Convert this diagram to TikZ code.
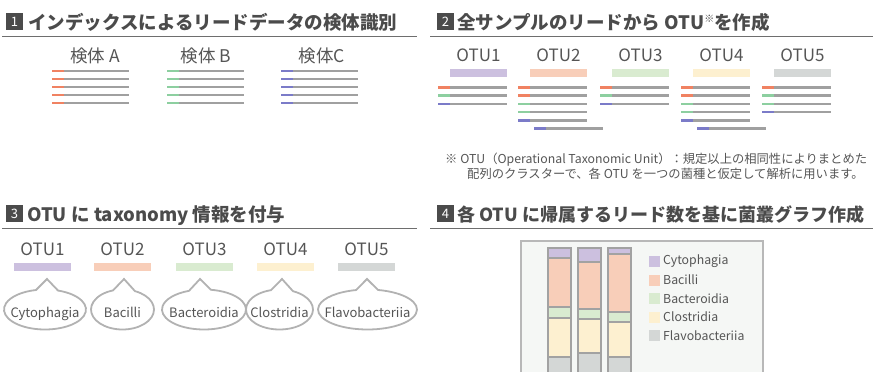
\documentclass[tikz,border=0pt]{standalone}
\usepackage{fontspec}
\setmainfont{Noto Sans CJK JP}
\usepackage{xcolor}
\usepackage{tikz}
\usetikzlibrary{positioning}

\definecolor{ink}{HTML}{4B4B4B}
\definecolor{txt}{HTML}{555555}
\definecolor{rulec}{HTML}{6E6E6E}
\definecolor{rd}{HTML}{F08262}
\definecolor{gn}{HTML}{8DCFA0}
\definecolor{bl}{HTML}{7B7BC8}
\definecolor{rg}{HTML}{A0A0A0}
\definecolor{cyto}{HTML}{CCC0DF}
\definecolor{baci}{HTML}{F8CEB9}
\definecolor{bact}{HTML}{D9EBD0}
\definecolor{clos}{HTML}{FDF0D0}
\definecolor{flav}{HTML}{D4D7D6}
\definecolor{framec}{HTML}{B8B8B8}
\definecolor{framefill}{HTML}{F5F7F5}
\definecolor{segc}{HTML}{A2A2A2}
\definecolor{bubc}{HTML}{B2B2B2}

\tikzset{
  numbox/.style={fill=ink,text=white,minimum width=17pt,minimum height=17.5pt,inner sep=0pt,font=\fontsize{13}{13}\selectfont},
  titletxt/.style={anchor=base west,inner sep=0pt,text=ink,font=\fontsize{18.5}{18.5}\selectfont\bfseries},
  hrule/.style={draw=rulec,line width=1.3pt},
  samplelbl/.style={text=txt,inner sep=0pt,font=\fontsize{17.5}{17.5}\selectfont},
  otulbl/.style={text=txt,inner sep=0pt,font=\fontsize{17}{17}\selectfont},
  otubar/.style={minimum width=57pt,minimum height=8pt,inner sep=0pt},
  readline/.style={draw=rg,line width=2.5pt},
  notetxt/.style={anchor=base west,inner sep=0pt,text=txt,font=\fontsize{12.3}{12.3}\selectfont},
  bubble/.style={draw=bubc,line width=1.8pt,fill=white},
  taxtxt/.style={anchor=base,inner sep=0pt,text=txt,font=\fontsize{13}{13}\selectfont},
  chartframe/.style={draw=framec,line width=2pt,fill=framefill},
  seg/.style={draw=segc,line width=2.4pt},
  legtxt/.style={anchor=west,inner sep=0pt,text=txt,font=\fontsize{12.3}{12.3}\selectfont}
}

\begin{document}
\begin{tikzpicture}[x=1pt,y=-1pt]
\useasboundingbox (0,0) rectangle (873,372);
%
% headings
\node[numbox] (num1) at (14.5,21.5) {1};
\node[titletxt] (title1) at (28,29) {インデックスによるリードデータの検体識別};
\node[numbox] (num2) at (445.5,21.5) {2};
\node[titletxt] (title2) at (457,29) {全サンプルのリードから OTU{\mdseries\fontsize{10}{10}\selectfont\raisebox{6pt}{※}}を作成};
\node[numbox] (num3) at (14.5,213.5) {3};
\node[titletxt] (title3) at (27,221) {OTU に taxonomy 情報を付与};
\node[numbox] (num4) at (445.5,213.5) {4};
\node[titletxt,font=\fontsize{18}{18}\selectfont\bfseries] (title4) at (457,221) {各 OTU に帰属するリード数を基に菌叢グラフ作成};
\draw[hrule] (2,36.5) -- (417,36.5);
\draw[hrule] (430,36.5) -- (873,36.5);
\draw[hrule] (2,228.5) -- (417,228.5);
\draw[hrule] (430,228.5) -- (873,228.5);
%
% 1: reads per sample
\node[samplelbl] (smpA) at (95,56) {検体 A};
\node[samplelbl] (smpB) at (206,56) {検体 B};
\node[samplelbl] (smpC) at (322,56) {検体C};
\foreach \x/\c in {52/rd,167/gn,281/bl}
  \foreach \y in {71,79,87,95,103} {
    \draw[readline] (\x,\y) -- ++(77,0);
    \draw[readline,draw=\c] (\x,\y) -- ++(12,0);
  }
%
% 2: OTUs from all reads
\foreach \n/\x/\c in {1/478.5/cyto,2/558.5/baci,3/640.5/bact,4/721.5/clos,5/802.5/flav} {
  \node[otulbl] (otuA\n) at (\x,55) {OTU\n};
  \node[otubar,fill=\c] (barA\n) at (\x,73) {};
}
\foreach \x/\y/\c in {438/87.5/rd,438/95.7/gn,438/104/bl,
    518/87.5/rd,518/95.7/rd,518/104/gn,518/112.2/gn,518/120.4/bl,534/128.6/bl,
    600/87.5/rd,600/95.7/gn,600/104/bl,
    681/87.5/rd,681/95.7/rd,681/104/gn,681/112.2/gn,681/120.4/bl,697/128.6/bl,
    762/87.5/rd,762/95.7/gn,762/104/gn,762/112.2/bl} {
  \draw[readline] (\x,\y) -- ++(69,0);
  \draw[readline,draw=\c] (\x,\y) -- ++(12,0);
}
\node[notetxt] (note1) at (445,163.5) {※ OTU（Operational Taxonomic Unit）：規定以上の相同性によりまとめた};
\node[notetxt] (note2) at (467,178.5) {配列のクラスターで、各 OTU を一つの菌種と仮定して解析に用います。};
%
% 3: taxonomy per OTU
\foreach \n/\x/\c in {1/42.5/cyto,2/122.5/baci,3/204.5/bact,4/285.5/clos,5/366.5/flav} {
  \node[otulbl] (otuB\n) at (\x,249) {OTU\n};
  \node[otubar,fill=\c] (barB\n) at (\x,267) {};
}
\foreach \n/\cx/\rx/\tx/\t in {1/45/41/47/Cytophagia,2/122.5/31.5/124/Bacilli,3/204/42/200/Bacteroidia,
    4/279.5/33.5/282/Clostridia,5/367.5/49.5/367/Flavobacteriia} {
  \pgfmathsetmacro\tR{acos((\tx+11-\cx)/\rx)}
  \pgfmathsetmacro\tL{acos((\tx-11-\cx)/\rx)}
  \draw[bubble] (\cx,309.5) ++(\tR:\rx pt and 20pt)
    arc[start angle=\tR,end angle=\tL-360,x radius=\rx pt,y radius=20pt]
    -- (\tx,279) -- cycle;
  \node[taxtxt] (tax\n) at (\cx,317) {\t};
}
%
% 4: stacked bar chart
\draw[chartframe] (521,241) rectangle (763,390);
\foreach \x/\a/\b/\c/\d in {548/258/307/318/357,578/262/309/319/353,608/254/312/322/357} {
  \draw[seg,fill=cyto] (\x,248) rectangle (\x+23,\a);
  \draw[seg,fill=baci] (\x,\a) rectangle (\x+23,\b);
  \draw[seg,fill=bact] (\x,\b) rectangle (\x+23,\c);
  \draw[seg,fill=clos] (\x,\c) rectangle (\x+23,\d);
  \draw[seg,fill=flav] (\x,\d) rectangle (\x+23,390);
}
\foreach \n/\y/\c/\t in {1/261.5/cyto/Cytophagia,2/280/baci/Bacilli,3/298.5/bact/Bacteroidia,
    4/317/clos/Clostridia,5/335.5/flav/Flavobacteriia} {
  \fill[\c] (649,\y-5.5) rectangle ++(11,11);
  \node[legtxt] (leg\n) at (663,\y) {\t};
}
\end{tikzpicture}
\end{document}
